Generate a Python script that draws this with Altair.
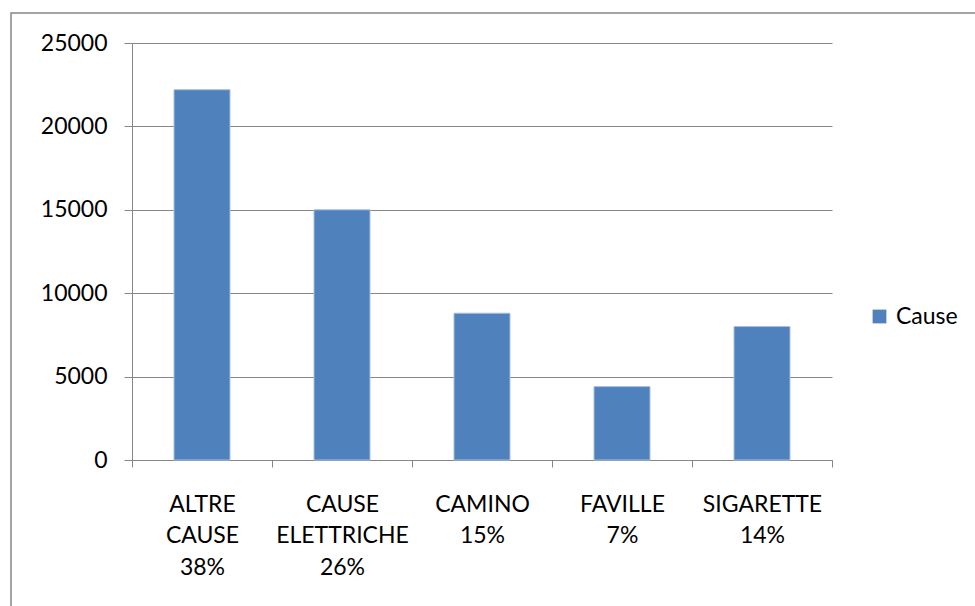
import altair as alt
import pandas as pd

# Fire causes: category names, share of total and count
categories = ["ALTRE CAUSE", "CAUSE ELETTRICHE", "CAMINO", "FAVILLE", "SIGARETTE"]
shares = ["38%", "26%", "15%", "7%", "14%"]
counts = [22200, 15000, 8800, 4400, 8000]
series_name = "Cause"
y_ticks = [0, 5000, 10000, 15000, 20000, 25000]

df = pd.DataFrame({
    "label": [f"{c} {s}" for c, s in zip(categories, shares)],
    "value": counts,
    "series": [series_name] * len(categories),
})

FONT = "Lato"
FS = 23
GRID = "#868686"
BLUE = "#4F81BD"

bars = alt.Chart(df).mark_bar(
    stroke="#a9bfdc", strokeWidth=1, width=alt.RelativeBandSize(0.4)
).encode(
    x=alt.X(
        "label:N", sort=None, title=None,
        scale=alt.Scale(paddingInner=0, paddingOuter=0),
        axis=alt.Axis(
            labelAngle=0, labelExpr="split(datum.label, ' ')",
            tickBand="extent", tickSize=7, tickColor=GRID, domainColor=GRID,
            labelPadding=26, labelLineHeight=31.7, labelBaseline="top",
            labelFont=FONT, labelFontSize=FS, labelColor="black",
            labelOverlap=False, grid=False,
        ),
    ),
    y=alt.Y(
        "value:Q", title=None,
        scale=alt.Scale(domain=[0, 25000], nice=False),
        axis=alt.Axis(
            values=y_ticks, format="d", tickSize=8, tickColor=GRID,
            domainColor=GRID, gridColor=GRID, gridOpacity=1, labelPadding=17,
            labelFont=FONT, labelFontSize=FS, labelColor="black",
        ),
    ),
    color=alt.Color(
        "series:N", scale=alt.Scale(range=[BLUE]),
        legend=alt.Legend(
            title=None, orient="none", legendX=736, legendY=262,
            symbolType="square", symbolSize=190, symbolStrokeWidth=0,
            labelFont=FONT, labelFontSize=FS, labelColor="black",
            labelOffset=5,
        ),
    ),
)

# Outer chart frame
frame = alt.Chart(alt.Data(values=[{}])).mark_rect(
    fillOpacity=0, stroke=GRID, strokeWidth=1.5
).encode(
    x=alt.value(-121), x2=alt.value(900),
    y=alt.value(-30), y2=alt.value(620),
)

chart = alt.layer(frame, bars).properties(
    width=700, height=417,
    autosize=alt.AutoSizeParams(type="none"),
    padding={"left": 132, "top": 43, "right": 143, "bottom": 146},
).configure_view(stroke=None)

chart.save("out.html", embed_options={"renderer": "svg", "actions": False})
